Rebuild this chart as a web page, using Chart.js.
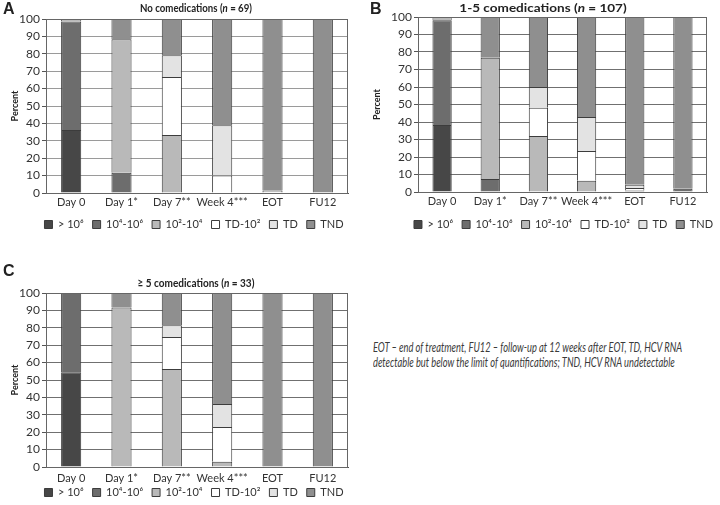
<!DOCTYPE html>
<html lang="en">
<head>
    <meta charset="UTF-8">
    <title>HCV RNA by comedications</title>
    <style>
        html, body {
            margin: 0;
            overflow: hidden;
        }
        body {
            width: 720px;
            height: 505px;
            background: #fff;
            position: relative;
            font-family: Lato, "DejaVu Sans Condensed", sans-serif;
            color: #222;
        }
        .box { position: absolute; }
        .letter { position: absolute; font-size: 16px; font-weight: bold; font-family: "Liberation Sans", sans-serif; }
        .title { position: absolute; font-size: 12px; font-weight: bold; white-space: nowrap; transform: translateX(-50%); }
        .note { position: absolute; left: 373px; top: 340px; font-size: 13px; font-style: italic; color: #3a3a3a; line-height: 15px; white-space: nowrap; transform-origin: 0 0; }
    </style>
    <script src="https://cdn.jsdelivr.net/npm/chart.js"></script>
</head>
<body>
    <div class="box" style="left:0; top:0; width:360px; height:240px;"><canvas id="chartA"></canvas></div>
    <div class="box" style="left:360px; top:0; width:360px; height:240px;"><canvas id="chartB"></canvas></div>
    <div class="box" style="left:0; top:255px; width:360px; height:260px;"><canvas id="chartC"></canvas></div>

    <div class="letter" style="left:3px; top:0px;">A</div>
    <div class="title" data-w="112" style="left:196px; top:0px;">No comedications (<i>n</i> = 69)</div>

    <div class="letter" style="left:370px; top:0px;">B</div>
    <div class="title" data-w="167" style="left:543px; top:0px;">1-5 comedications (<i>n</i> = 107)</div>

    <div class="letter" style="left:3px; top:262px;">C</div>
    <div class="title" data-w="117" style="left:196px; top:275px;">&ge; 5 comedications (<i>n</i> = 33)</div>

    <div class="note" data-w="309">EOT – end of treatment, FU12 – follow-up at 12 weeks after EOT, TD, HCV RNA<br>detectable but below the limit of quantifications; TND, HCV RNA undetectable</div>

    <script>
        const categories = ['Day 0', 'Day 1*', 'Day 7**', 'Week 4***', 'EOT', 'FU12'];
        const seriesLabels = ['> 10⁶', '10⁴-10⁶', '10²-10⁴', 'TD-10²', 'TD', 'TND'];
        const seriesColors = ['#474747', '#6d6d6d', '#b9b9b9', '#ffffff', '#e3e3e3', '#8f8f8f'];

        // A: no comedications (n = 69), percent
        const aGt6   = [36.2, 0, 0, 0, 0, 0];
        const a4to6  = [62.3, 11.6, 0, 0, 0, 0];
        const a2to4  = [1.5, 76.8, 33.3, 0, 0, 0];
        const aTdTo2 = [0, 0, 33.3, 10.1, 0, 0];
        const aTd    = [0, 0, 12.6, 28.8, 1.4, 0];
        const aTnd   = [0, 11.6, 20.8, 61.1, 98.6, 100];

        // B: 1-5 comedications (n = 107)
        const bGt6   = [38.3, 0, 0, 0, 0, 0];
        const b4to6  = [59.8, 7.5, 0, 0, 0.9, 1.9];
        const b2to4  = [1.9, 69.2, 32.0, 6.5, 0, 0];
        const bTdTo2 = [0, 0, 16.2, 17.0, 1.4, 0];
        const bTd    = [0, 0, 11.8, 19.4, 1.9, 0];
        const bTnd   = [0, 23.3, 40.0, 57.1, 95.8, 98.1];

        // C: >= 5 comedications (n = 33)
        const cGt6   = [54.5, 0, 0, 0, 0, 0];
        const c4to6  = [45.5, 0, 0, 0, 0, 0];
        const c2to4  = [0, 91.7, 56.3, 3.0, 0, 0];
        const cTdTo2 = [0, 0, 18.4, 20.0, 0, 0];
        const cTd    = [0, 0, 6.7, 13.2, 0, 0];
        const cTnd   = [0, 8.3, 18.6, 63.8, 100, 100];

        const FONT = 'Lato, "DejaVu Sans Condensed", sans-serif';

        // squeeze / stretch the html texts to the width they have in the figure
        document.querySelectorAll('[data-w]').forEach(el => {
            const s = Number(el.dataset.w) / el.scrollWidth;
            if (el.classList.contains('note')) {
                el.style.transform = `scaleX(${s})`;
            } else {
                el.style.transform = `translateX(-50%) scaleX(${s})`;
            }
        });

        // outline round the plot area
        const framePlugin = {
            id: 'frame',
            afterDatasetsDraw(chart) {
                const a = chart.chartArea;
                const ctx = chart.ctx;
                ctx.save();
                ctx.strokeStyle = '#666';
                ctx.lineWidth = 1;
                ctx.strokeRect(Math.round(a.left) + 0.5, Math.round(a.top) + 0.5,
                    Math.round(a.right - a.left) - 1, Math.round(a.bottom - a.top));
                ctx.restore();
            }
        };

        // the legend sits under the plot, not under the whole canvas
        const legendShift = {
            id: 'legendShift',
            afterLayout(chart, args, opts) {
                const lg = chart.legend;
                if (!lg) return;
                lg.left += opts.dx || 0;
                lg.right += opts.dx || 0;
                lg.top += opts.dy || 0;
                lg.bottom += opts.dy || 0;
            }
        };

        function makeChart(id, series, opt) {
            const datasets = series.map((values, i) => ({
                label: seriesLabels[i],
                data: values,
                backgroundColor: seriesColors[i],
                borderColor: '#3c3c3c',
                borderWidth: 1,
                barPercentage: 0.4,
                categoryPercentage: 1
            }));

            return new Chart(document.getElementById(id), {
                type: 'bar',
                data: { labels: categories, datasets: datasets },
                plugins: [framePlugin, legendShift],
                options: {
                    responsive: true,
                    maintainAspectRatio: false,
                    animation: false,
                    layout: { padding: { left: 0, right: opt.padRight, top: opt.padTop, bottom: 0 } },
                    scales: {
                        x: {
                            stacked: true,
                            grid: { display: false, drawTicks: false },
                            border: { display: true, color: '#555' },
                            ticks: {
                                color: '#333', padding: opt.xPad, autoSkip: false,
                                maxRotation: 0, minRotation: 0,
                                font: { family: FONT, size: 11 }
                            },
                            afterFit: (s) => { s.height = opt.xHeight; }
                        },
                        y: {
                            stacked: true,
                            min: 0,
                            max: 100,
                            grid: { color: opt.gridColor, tickColor: '#555', tickLength: 4 },
                            border: { display: true, color: '#555' },
                            ticks: {
                                stepSize: 10, autoSkip: false, color: '#333', padding: 2,
                                font: { family: FONT, size: 12 }
                            },
                            title: {
                                display: true,
                                text: 'Percent',
                                color: '#222',
                                font: { family: FONT, size: 9, weight: 'bold' },
                                padding: { top: opt.titlePad, bottom: 0 }
                            },
                            afterFit: (s) => { s.width = opt.yWidth; }
                        }
                    },
                    plugins: {
                        legend: {
                            position: 'bottom',
                            labels: {
                                boxWidth: 8,
                                boxHeight: 8,
                                padding: 9,
                                color: '#333',
                                font: { family: FONT, size: 11 }
                            }
                        },
                        legendShift: { dx: opt.legendDx, dy: opt.legendDy },
                        tooltip: { enabled: false }
                    }
                }
            });
        }

        makeChart('chartA', [aGt6, a4to6, a2to4, aTdTo2, aTd, aTnd],
            { padTop: 19, padRight: 12, yWidth: 46, xHeight: 17, xPad: 3, legendDx: 20, legendDy: 0, titlePad: 10, gridColor: '#9a9a9a' });
        makeChart('chartB', [bGt6, b4to6, b2to4, bTdTo2, bTd, bTnd],
            { padTop: 17, padRight: 13, yWidth: 58, xHeight: 18, xPad: 3, legendDx: 30, legendDy: 0, titlePad: 12, gridColor: '#707070' });
        makeChart('chartC', [cGt6, c4to6, c2to4, cTdTo2, cTd, cTnd],
            { padTop: 38, padRight: 12, yWidth: 46, xHeight: 18, xPad: 5, legendDx: 20, legendDy: -7, titlePad: 10, gridColor: '#707070' });
    </script>
</body>
</html>
